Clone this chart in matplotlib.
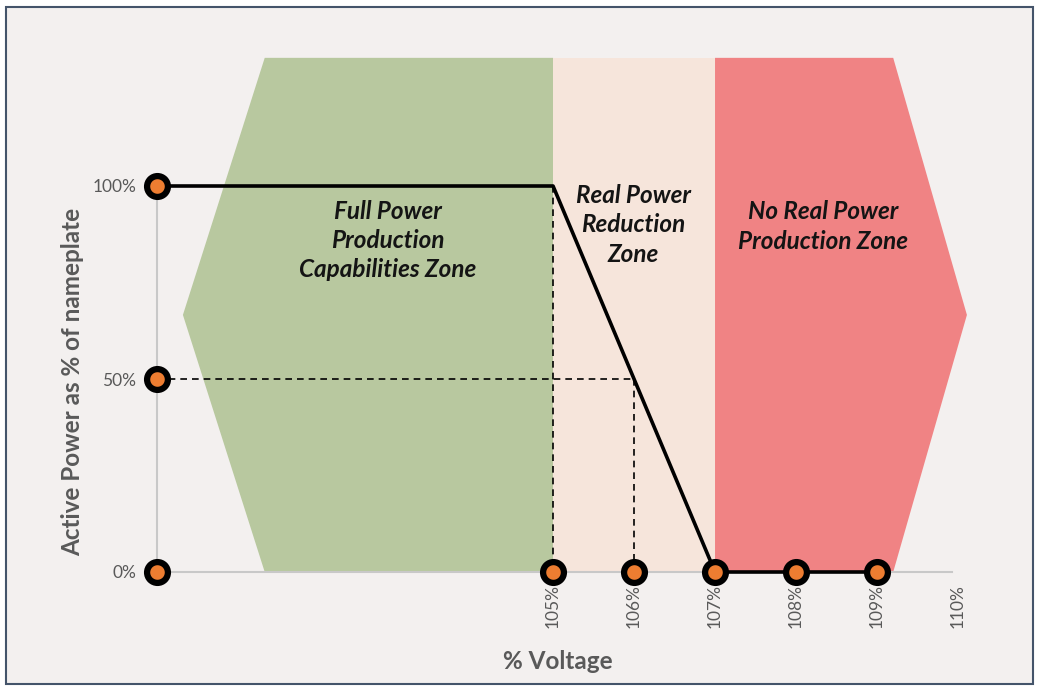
import matplotlib
matplotlib.use('Agg')
import matplotlib.pyplot as plt
from matplotlib.patches import Polygon, Rectangle

plt.rcParams['font.family'] = ['Lato', 'DejaVu Sans']

# axis range (the left axis sits slightly right of 100%)
x_left = 100.11
x_right = 110
voltage_ticks = [105, 106, 107, 108, 109, 110]
voltage_labels = ['105%', '106%', '107%', '108%', '109%', '110%']
power_ticks = [0, 50, 100]
power_labels = ['0%', '50%', '100%']

# volt-watt curve
curve_x = [x_left, 105, 107, 109]
curve_y = [100, 100, 0, 0]

# markers
marker_x = [x_left, x_left, x_left, 105, 106, 107, 108, 109]
marker_y = [0, 50, 100, 0, 0, 0, 0, 0]

# dashed guides
guide_h_x = [x_left, 106]
guide_h_y = [50, 50]
guide_v1_x = [105, 105]
guide_v1_y = [100, 0]
guide_v2_x = [106, 106]
guide_v2_y = [50, 0]

# zone shapes
zone_top = 133.2
zone_mid = 66.6
green_x = [100.43, 101.44, 105, 105, 101.44]
green_y = [zone_mid, zone_top, zone_top, 0, 0]
peach_x = [105, 107, 107, 105]
peach_y = [0, 0, zone_top, zone_top]
red_x = [107, 109.2, 110.11, 109.2, 107]
red_y = [zone_top, zone_top, zone_mid, 0, 0]

zone_texts = ['Full Power\nProduction\nCapabilities Zone',
              'Real Power\nReduction\nZone',
              'No Real Power\nProduction Zone']
zone_text_x = [102.96, 105.99, 108.33]
zone_text_y = [85.8, 89.9, 89.5]

bg = '#F3F0EF'
W, H = 1039, 691
fig = plt.figure(figsize=(W / 100, H / 100), dpi=100, facecolor='white')

# frame
fig.patches.append(Rectangle((6 / W, 7 / H), (1033 - 6) / W, (684 - 7) / H,
                             transform=fig.transFigure, facecolor=bg,
                             edgecolor='#44546A', linewidth=1.5, zorder=-10))

ax = fig.add_axes([157 / W, (691 - 572) / H, (958 - 157) / W, (572 - 186) / H])
ax.set_facecolor('none')
ax.set_xlim(x_left, x_right)
ax.set_ylim(0, 100)

ax.add_patch(Polygon(list(zip(green_x, green_y)), closed=True, facecolor='#B8C89F',
                     edgecolor='none', clip_on=False, zorder=1))
ax.add_patch(Polygon(list(zip(peach_x, peach_y)), closed=True, facecolor='#F6E5DB',
                     edgecolor='none', clip_on=False, zorder=1))
ax.add_patch(Polygon(list(zip(red_x, red_y)), closed=True, facecolor='#F08384',
                     edgecolor='none', clip_on=False, zorder=1))

dash = dict(color='black', linewidth=1.2, dashes=(4, 3), zorder=3, clip_on=False)
ax.plot(guide_h_x, guide_h_y, **dash)
ax.plot(guide_v1_x, guide_v1_y, **dash)
ax.plot(guide_v2_x, guide_v2_y, **dash)

ax.plot(curve_x, curve_y, color='black', linewidth=2.6, zorder=4, clip_on=False)
ax.plot(marker_x, marker_y, linestyle='none', marker='o', markersize=15,
        markerfacecolor='#ED7D31', markeredgecolor='black', markeredgewidth=4.5,
        zorder=5, clip_on=False)

for t, tx, ty in zip(zone_texts, zone_text_x, zone_text_y):
    ax.text(tx, ty, t, ha='center', va='center', fontsize=17.5, fontweight='bold',
            fontstyle='italic', color='#141414', linespacing=1.32, zorder=6)

for s in ['top', 'right']:
    ax.spines[s].set_visible(False)
for s in ['left', 'bottom']:
    ax.spines[s].set_color('#C8C8C8')
    ax.spines[s].set_linewidth(1.5)
    ax.spines[s].set_zorder(2)
ax.spines['bottom'].set_bounds(x_left, 109.93)

ax.set_xticks(voltage_ticks)
ax.set_xticklabels(voltage_labels, rotation=90)
ax.set_yticks(power_ticks)
ax.set_yticklabels(power_labels)
ax.tick_params(axis='both', length=0, labelsize=12.5, labelcolor='#595959')
ax.tick_params(axis='y', pad=15)
ax.tick_params(axis='x', pad=8.5)

ax.set_xlabel('% Voltage', fontsize=17.5, fontweight='bold', color='#595959', labelpad=16)
ax.set_ylabel('Active Power as % of nameplate', fontsize=17.5, fontweight='bold',
              color='#595959')
ax.yaxis.set_label_coords(-(157 - 84) / (958 - 157), (572 - 382) / 386)

fig.savefig('out.png', dpi=100, facecolor='white')
